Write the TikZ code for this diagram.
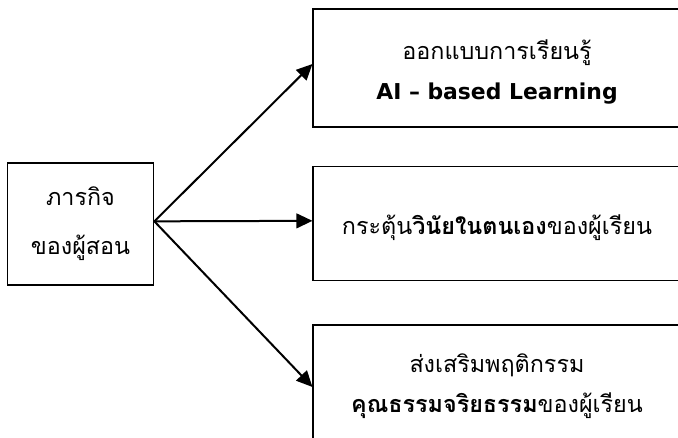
\documentclass[tikz,border=0pt]{standalone}
\usepackage{fontspec}
\setmainfont[Script=Thai]{Loma}
\newfontfamily\latinfont{DejaVu Sans}
\newcommand{\topgap}{\rule{0pt}{21pt}}
\usetikzlibrary{arrows.meta}
\usetikzlibrary{positioning}

\begin{document}
\begin{tikzpicture}[x=0.75pt,y=0.75pt,yscale=-1,xscale=1]
  \tikzstyle{arrow} = [line width=1.5pt,-{Triangle[length=12pt,width=11pt]}]
  \tikzstyle{box} = [draw,line width=0.8pt,inner sep=0pt,align=center,font=\fontsize{17.5}{30}\selectfont]
  \useasboundingbox (0,0) rectangle (678,438);
  \clip (0,0) rectangle (678,438);
 %Draw the task box on the left
  \node[box,minimum width=110pt,minimum height=91.5pt] (task) at (80.5,224) {ภารกิจ\\[7pt]ของผู้สอน};
 %Draw the three boxes on the right
  \node[box,minimum width=276pt,minimum height=88.5pt] (design) at (497,68)
    {\topgap ออกแบบการเรียนรู้\\{\latinfont\bfseries\fontsize{16.4}{30}\selectfont AI – based Learning}};
  \node[box,minimum width=276pt,minimum height=85pt] (discipline) at (497,223.5)
    {\topgap กระตุ้น\textbf{วินัยในตนเอง}ของผู้เรียน};
  \node[box,minimum width=276pt,minimum height=85.5pt] (ethics) at (497,382)
    {\topgap ส่งเสริมพฤติกรรม\\\textbf{คุณธรรมจริยธรรม}ของผู้เรียน};
 %Draw the arrows
  \draw[arrow] ([yshift=-2pt]task.east) -- ([yshift=-3pt]design.west);
  \draw[arrow] ([yshift=-2pt]task.east) -- ([yshift=-2pt]discipline.west);
  \draw[arrow] ([yshift=-2pt]task.east) -- ([yshift=3.75pt]ethics.west);
\end{tikzpicture}
\end{document}
